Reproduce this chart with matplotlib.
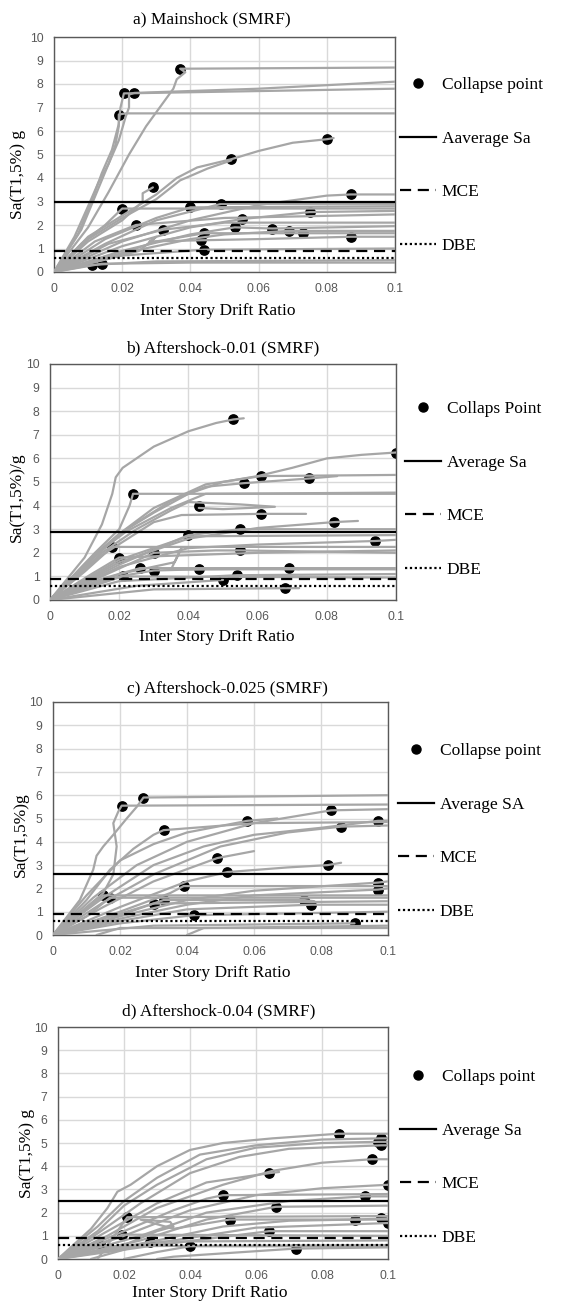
import numpy as np
import matplotlib.pyplot as plt
from matplotlib.lines import Line2D

# IDA curves: each curve is a list of (drift, Sa) points
curves_a = [
    [(0, 0), (0.006, 1.5), (0.01, 2.8), (0.013, 3.8), (0.016, 4.6), (0.018, 5.4), (0.019, 6.2), (0.019, 6.7), (0.021, 6.75), (0.1, 6.75)],
    [(0, 0), (0.007, 1.6), (0.011, 3.0), (0.014, 4.2), (0.017, 5.2), (0.019, 6.3), (0.0195, 7.0), (0.0205, 7.6), (0.1, 7.8)],
    [(0, 0), (0.008, 1.8), (0.012, 3.2), (0.016, 4.6), (0.019, 5.6), (0.021, 6.6), (0.022, 7.0), (0.022, 7.55), (0.0235, 7.62), (0.06, 7.8), (0.1, 8.1)],
    [(0, 0), (0.01, 1.9), (0.016, 3.4), (0.022, 5.0), (0.027, 6.2), (0.032, 7.2), (0.035, 7.8), (0.036, 8.2), (0.0385, 8.5), (0.037, 8.65), (0.1, 8.7)],
    [(0, 0), (0.01, 1.5), (0.02, 2.4), (0.03, 3.3), (0.036, 4.0), (0.042, 4.45), (0.052, 4.8), (0.06, 5.15), (0.07, 5.5), (0.08, 5.65), (0.082, 5.7)],
    [(0, 0), (0.01, 1.4), (0.02, 2.3), (0.03, 3.1), (0.037, 3.9), (0.045, 4.4), (0.052, 4.75)],
    [(0, 0), (0.01, 1.3), (0.02, 2.2), (0.026, 3.0), (0.026, 3.35), (0.029, 3.6)],
    [(0, 0), (0.008, 1.2), (0.015, 2.0), (0.02, 2.7), (0.03, 2.7), (0.1, 2.7)],
    [(0, 0), (0.015, 1.4), (0.03, 2.3), (0.04, 2.75), (0.1, 2.8)],
    [(0, 0), (0.015, 1.2), (0.03, 2.2), (0.049, 2.9), (0.1, 2.9)],
    [(0, 0), (0.02, 1.3), (0.04, 2.2), (0.06, 2.85), (0.08, 3.25), (0.087, 3.3), (0.1, 3.3)],
    [(0, 0), (0.012, 1.3), (0.024, 2.0), (0.05, 2.3), (0.1, 2.45)],
    [(0, 0), (0.016, 1.2), (0.032, 1.8), (0.05, 2.1), (0.1, 2.1)],
    [(0, 0), (0.02, 1.1), (0.04, 1.9), (0.055, 2.25), (0.075, 2.55), (0.1, 2.6)],
    [(0, 0), (0.02, 0.9), (0.04, 1.6), (0.053, 1.9), (0.064, 1.85), (0.1, 1.95)],
    [(0, 0), (0.02, 0.8), (0.04, 1.4), (0.05, 1.6), (0.069, 1.75), (0.1, 1.75)],
    [(0, 0), (0.02, 0.8), (0.03, 1.3), (0.044, 1.65), (0.073, 1.65), (0.1, 1.65)],
    [(0, 0), (0.025, 0.9), (0.03, 1.5), (0.028, 1.3), (0.043, 1.35), (0.06, 1.4), (0.087, 1.5), (0.1, 1.5)],
    [(0, 0), (0.02, 0.7), (0.044, 0.95), (0.1, 1.0)],
    [(0, 0), (0.011, 0.3), (0.03, 0.45), (0.1, 0.5)],
    [(0, 0), (0.014, 0.35), (0.04, 0.4), (0.1, 0.4)],
]
collapse_a_x = [0.037, 0.0205, 0.0235, 0.019, 0.08, 0.052, 0.029, 0.087, 0.02, 0.04, 0.049,
                0.024, 0.032, 0.055, 0.075, 0.053, 0.064, 0.069, 0.073, 0.087, 0.044, 0.043,
                0.044, 0.011, 0.014]
collapse_a_y = [8.65, 7.6, 7.6, 6.7, 5.65, 4.8, 3.6, 3.3, 2.7, 2.75, 2.9,
                2.0, 1.8, 2.25, 2.55, 1.9, 1.85, 1.75, 1.65, 1.5, 1.65, 1.35,
                0.95, 0.3, 0.35]

curves_b = [
    [(0, 0), (0.01, 1.8), (0.015, 3.2), (0.018, 4.5), (0.019, 5.2), (0.021, 5.6), (0.025, 6.0), (0.03, 6.5), (0.04, 7.15), (0.048, 7.5), (0.053, 7.65), (0.056, 7.7)],
    [(0, 0), (0.01, 1.5), (0.02, 2.8), (0.03, 3.7), (0.04, 4.5), (0.05, 5.0), (0.06, 5.25), (0.07, 5.6), (0.08, 6.0), (0.09, 6.15), (0.1, 6.25)],
    [(0, 0), (0.012, 1.8), (0.02, 2.8), (0.03, 3.9), (0.045, 4.9), (0.061, 5.25), (0.1, 5.3)],
    [(0, 0), (0.012, 1.7), (0.022, 3.0), (0.035, 4.2), (0.045, 4.8), (0.056, 4.95), (0.075, 5.15), (0.083, 5.25)],
    [(0, 0), (0.013, 2.0), (0.02, 3.0), (0.023, 4.0), (0.024, 4.5), (0.1, 4.5)],
    [(0, 0), (0.013, 1.9), (0.022, 2.9), (0.035, 3.9), (0.045, 4.5), (0.1, 4.55)],
    [(0, 0), (0.015, 2.0), (0.025, 3.0), (0.035, 3.8), (0.04, 4.15), (0.055, 4.05), (0.065, 3.95), (0.05, 3.85), (0.043, 3.9)],
    [(0, 0), (0.015, 1.9), (0.03, 3.3), (0.038, 3.6), (0.061, 3.65), (0.074, 3.65)],
    [(0, 0), (0.02, 1.6), (0.04, 2.6), (0.06, 3.05), (0.082, 3.3), (0.089, 3.35)],
    [(0, 0), (0.02, 1.5), (0.04, 2.75), (0.055, 3.0), (0.1, 3.0)],
    [(0, 0), (0.02, 1.7), (0.04, 2.7), (0.1, 2.75)],
    [(0, 0), (0.02, 1.4), (0.04, 2.2), (0.06, 2.35), (0.094, 2.5), (0.1, 2.55)],
    [(0, 0), (0.01, 1.2), (0.018, 2.25), (0.1, 2.25)],
    [(0, 0), (0.012, 1.1), (0.02, 1.8), (0.06, 2.0), (0.1, 2.1)],
    [(0, 0), (0.015, 1.0), (0.03, 2.0), (0.048, 2.1), (0.055, 2.1), (0.1, 2.0)],
    [(0, 0), (0.02, 1.1), (0.036, 1.6), (0.038, 2.2), (0.035, 1.3), (0.1, 1.3)],
    [(0, 0), (0.015, 0.9), (0.026, 1.35), (0.1, 1.35)],
    [(0, 0), (0.02, 1.0), (0.03, 1.25), (0.043, 1.3), (0.069, 1.35), (0.072, 1.3)],
    [(0, 0), (0.02, 0.8), (0.054, 1.05), (0.1, 1.1)],
    [(0, 0), (0.021, 1.0), (0.1, 0.95)],
    [(0, 0), (0.025, 0.6), (0.05, 0.85)],
    [(0, 0), (0.03, 0.45), (0.068, 0.5), (0.072, 0.5)],
]
collapse_b_x = [0.053, 0.1, 0.061, 0.056, 0.075, 0.024, 0.043, 0.061, 0.082, 0.055, 0.04,
                0.094, 0.018, 0.02, 0.03, 0.055, 0.026, 0.03, 0.043, 0.069, 0.054, 0.05,
                0.068, 0.021]
collapse_b_y = [7.65, 6.25, 5.25, 4.95, 5.15, 4.5, 4.0, 3.65, 3.3, 3.0, 2.75,
                2.5, 2.25, 1.8, 2.0, 2.1, 1.35, 1.25, 1.3, 1.35, 1.05, 0.85,
                0.5, 1.0]

curves_c = [
    [(0, 0), (0.008, 1.5), (0.012, 2.8), (0.013, 3.4), (0.015, 3.8), (0.018, 4.3), (0.022, 5.0), (0.025, 5.5), (0.027, 5.9), (0.1, 6.0)],
    [(0, 0), (0.01, 1.2), (0.015, 1.8), (0.018, 2.6), (0.019, 3.8), (0.018, 4.8), (0.0195, 5.3), (0.0205, 5.55), (0.1, 5.6)],
    [(0, 0), (0.01, 1.5), (0.017, 2.8), (0.024, 3.7), (0.03, 4.3), (0.033, 4.5), (0.06, 4.8), (0.1, 4.85)],
    [(0, 0), (0.01, 1.7), (0.02, 3.2), (0.03, 3.9), (0.04, 4.4), (0.058, 4.9), (0.067, 5.0)],
    [(0, 0), (0.012, 1.6), (0.025, 3.0), (0.04, 4.0), (0.06, 4.8), (0.083, 5.35), (0.1, 5.4)],
    [(0, 0), (0.015, 1.6), (0.03, 3.0), (0.045, 3.8), (0.06, 4.3), (0.08, 4.6), (0.097, 4.9), (0.1, 4.9)],
    [(0, 0), (0.015, 1.4), (0.03, 2.6), (0.05, 3.8), (0.07, 4.4), (0.086, 4.65), (0.1, 4.7)],
    [(0, 0), (0.015, 1.2), (0.03, 2.3), (0.049, 3.3), (0.06, 3.6)],
    [(0, 0), (0.02, 1.2), (0.04, 2.3), (0.052, 2.7), (0.07, 2.9), (0.082, 3.0), (0.086, 3.1)],
    [(0, 0), (0.02, 1.0), (0.035, 1.8), (0.039, 2.1), (0.1, 2.1)],
    [(0, 0), (0.02, 0.8), (0.04, 1.5), (0.06, 1.9), (0.097, 2.25), (0.1, 2.3)],
    [(0, 0), (0.02, 0.7), (0.04, 1.3), (0.06, 1.7), (0.097, 1.95), (0.1, 2.0)],
    [(0, 0), (0.008, 0.9), (0.015, 1.7), (0.1, 1.7)],
    [(0, 0), (0.01, 0.8), (0.017, 1.6), (0.1, 1.6)],
    [(0, 0), (0.015, 0.7), (0.03, 1.35), (0.1, 1.45)],
    [(0, 0), (0.015, 0.6), (0.033, 1.5), (0.075, 1.5), (0.078, 1.45)],
    [(0, 0), (0.02, 0.6), (0.04, 1.1), (0.077, 1.3), (0.1, 1.3)],
    [(0, 0), (0.02, 0.5), (0.042, 0.85), (0.1, 1.0)],
    [(0, 0), (0.03, 0.4), (0.06, 0.45), (0.09, 0.5)],
    [(0.013, 0), (0.02, 0.3), (0.1, 0.3)],
    [(0.04, 0), (0.045, 0.3), (0.1, 0.4)],
]
collapse_c_x = [0.027, 0.0205, 0.033, 0.058, 0.083, 0.097, 0.086, 0.049, 0.082, 0.052, 0.039,
                0.097, 0.097, 0.015, 0.017, 0.03, 0.033, 0.075, 0.077, 0.042, 0.09]
collapse_c_y = [5.9, 5.55, 4.5, 4.9, 5.35, 4.9, 4.65, 3.3, 3.0, 2.7, 2.1,
                2.25, 1.95, 1.7, 1.6, 1.35, 1.5, 1.5, 1.3, 0.85, 0.5]

curves_d = [
    [(0, 0), (0.01, 1.3), (0.015, 2.2), (0.018, 2.9), (0.022, 3.2), (0.03, 4.0), (0.04, 4.7), (0.05, 5.0), (0.065, 5.2), (0.085, 5.4), (0.1, 5.4)],
    [(0, 0), (0.012, 1.4), (0.02, 2.5), (0.03, 3.5), (0.043, 4.5), (0.06, 4.9), (0.08, 5.15), (0.098, 5.2), (0.1, 5.2)],
    [(0, 0), (0.012, 1.2), (0.02, 2.3), (0.03, 3.2), (0.045, 4.3), (0.06, 4.8), (0.08, 5.0), (0.097, 5.05), (0.1, 5.05)],
    [(0, 0), (0.012, 1.1), (0.025, 2.4), (0.04, 3.7), (0.055, 4.4), (0.07, 4.75), (0.098, 4.9), (0.1, 4.9)],
    [(0, 0), (0.015, 1.2), (0.03, 2.4), (0.045, 3.3), (0.064, 3.7), (0.067, 3.75)],
    [(0, 0), (0.015, 1.0), (0.03, 2.2), (0.05, 3.2), (0.065, 3.8), (0.08, 4.15), (0.095, 4.3), (0.1, 4.3)],
    [(0, 0), (0.02, 1.0), (0.04, 2.1), (0.06, 2.75), (0.08, 3.05), (0.1, 3.2)],
    [(0, 0), (0.02, 1.2), (0.035, 2.1), (0.045, 2.6), (0.05, 2.75), (0.1, 2.8)],
    [(0, 0), (0.025, 1.0), (0.045, 2.0), (0.07, 2.5), (0.093, 2.7), (0.1, 2.7)],
    [(0, 0), (0.025, 0.8), (0.045, 1.7), (0.066, 2.25), (0.1, 2.3)],
    [(0.012, 0), (0.016, 0.8), (0.021, 1.8), (0.1, 1.85)],
    [(0, 0), (0.02, 0.6), (0.03, 1.2), (0.035, 1.4), (0.034, 1.6), (0.025, 1.7), (0.035, 1.3), (0.052, 1.7), (0.1, 1.7)],
    [(0, 0), (0.03, 0.8), (0.05, 1.4), (0.07, 1.65), (0.09, 1.7), (0.1, 1.75)],
    [(0, 0), (0.035, 0.8), (0.06, 1.35), (0.1, 1.55)],
    [(0, 0), (0.03, 0.6), (0.064, 1.2), (0.1, 1.2)],
    [(0, 0), (0.01, 0.5), (0.0195, 1.05), (0.1, 1.0)],
    [(0.01, 0), (0.02, 0.4), (0.028, 0.75), (0.1, 0.8)],
    [(0, 0), (0.013, 0.55), (0.1, 0.6)],
    [(0.02, 0), (0.03, 0.3), (0.04, 0.55), (0.1, 0.55)],
    [(0.03, 0), (0.035, 0.1), (0.072, 0.45), (0.1, 0.5)],
]
collapse_d_x = [0.085, 0.098, 0.097, 0.098, 0.095, 0.064, 0.1, 0.05, 0.093, 0.066, 0.021,
                0.052, 0.09, 0.098, 0.1, 0.064, 0.0195, 0.028, 0.013, 0.04, 0.072]
collapse_d_y = [5.4, 5.2, 5.05, 4.9, 4.3, 3.7, 3.2, 2.75, 2.7, 2.25, 1.8,
                1.7, 1.7, 1.75, 1.55, 1.2, 1.05, 0.75, 0.55, 0.55, 0.45]

titles = ["a) Mainshock (SMRF)", "b) Aftershock-0.01 (SMRF)",
          "c) Aftershock-0.025 (SMRF)", "d) Aftershock-0.04 (SMRF)"]
ylabels = ["Sa(T1,5%) g", "Sa(T1,5%)/g", "Sa(T1,5%)g", "Sa(T1,5%) g"]
collapse_labels = ["Collapse point", "Collaps Point", "Collapse point", "Collaps point"]
average_labels = ["Aaverage Sa", "Average Sa", "Average SA", "Average Sa"]
average_sa = [3.0, 2.9, 2.6, 2.5]
mce_sa = 0.9
dbe_sa = 0.6

x_ticks = [0, 0.02, 0.04, 0.06, 0.08, 0.1]
x_ticklabels = ["0", "0.02", "0.04", "0.06", "0.08", "0.1"]
y_ticks = list(range(0, 11))

W, H = 561, 1301
fig = plt.figure(figsize=(W / 100, H / 100), dpi=100)

# axes boxes in pixels: left, top, right, bottom
boxes = [(54, 37, 395, 272), (50, 364, 396, 600), (53, 702, 388, 935), (58, 1027, 388, 1259)]
# legend first-row centre and handle left edge, pixels
legend_pos = [(400, 87), (405, 411), (398, 753), (400, 1079)]
# label placement in axes fractions
title_x = [0.463, 0.5, 0.521, 0.488]
title_pad = [10, 8, 7, 8]
xlabel_xy = [(0.481, -0.13), (0.482, -0.122), (0.478, -0.129), (0.461, -0.112)]
ylabel_xy = [(-0.082, 0.417), (-0.072, 0.436), (-0.072, 0.429), (-0.070, 0.457)]

serif = "Liberation Serif"
sans = "Liberation Sans"
curve_color = "#a6a6a6"

panels = [(curves_a, collapse_a_x, collapse_a_y),
          (curves_b, collapse_b_x, collapse_b_y),
          (curves_c, collapse_c_x, collapse_c_y),
          (curves_d, collapse_d_x, collapse_d_y)]

for i, (curves, cx, cy) in enumerate(panels):
    l, t, r, b = boxes[i]
    ax = fig.add_axes([l / W, 1 - b / H, (r - l) / W, (b - t) / H])

    ax.scatter(cx, cy, s=45, color="black", zorder=2)
    for c in curves:
        xs, ys = zip(*c)
        ax.plot(xs, ys, color=curve_color, lw=1.6, zorder=3, solid_capstyle="round")

    ax.axhline(average_sa[i], color="black", lw=1.6, zorder=4)
    ax.axhline(mce_sa, color="black", lw=1.6, ls=(0, (5, 3)), zorder=4)
    ax.axhline(dbe_sa, color="black", lw=1.6, ls=(0, (1, 1.2)), zorder=4)

    ax.set_xlim(0, 0.1)
    ax.set_ylim(0, 10)
    ax.set_xticks(x_ticks)
    ax.set_xticklabels(x_ticklabels)
    ax.set_yticks(y_ticks)
    ax.grid(True, color="#d9d9d9", lw=1.0, zorder=0)
    ax.set_axisbelow(True)
    ax.tick_params(length=0, labelsize=8.8, labelcolor="#595959")
    ax.tick_params(axis="x", pad=8)
    ax.tick_params(axis="y", pad=7.5)
    for lab in ax.get_xticklabels() + ax.get_yticklabels():
        lab.set_fontfamily(sans)
    for s in ax.spines.values():
        s.set_color("#595959")
        s.set_linewidth(1.0)

    ax.set_title(titles[i], fontfamily=serif, fontsize=12.5, pad=title_pad[i], x=title_x[i])
    ax.set_xlabel("Inter Story Drift Ratio", fontfamily=serif, fontsize=12.5)
    ax.set_ylabel(ylabels[i], fontfamily=serif, fontsize=12.5)
    ax.xaxis.set_label_coords(*xlabel_xy[i])
    ax.yaxis.set_label_coords(*ylabel_xy[i])

    handles = [
        Line2D([], [], ls="none", marker="o", color="black", markersize=6.5),
        Line2D([], [], color="black", lw=1.6),
        Line2D([], [], color="black", lw=1.6, ls=(0, (5, 3))),
        Line2D([], [], color="black", lw=1.6, ls=(0, (1, 1.2))),
    ]
    labels = [collapse_labels[i], average_labels[i], "MCE", "DBE"]
    lx, ly = legend_pos[i]
    fig.legend(handles, labels, loc="upper left",
               bbox_to_anchor=(lx / W, 1 - (ly - 10) / H),
               frameon=False, borderpad=0, borderaxespad=0,
               handlelength=2.1, handletextpad=0.3, labelspacing=2.15,
               prop={"family": serif, "size": 12.5})

fig.savefig("out.png", dpi=100)
